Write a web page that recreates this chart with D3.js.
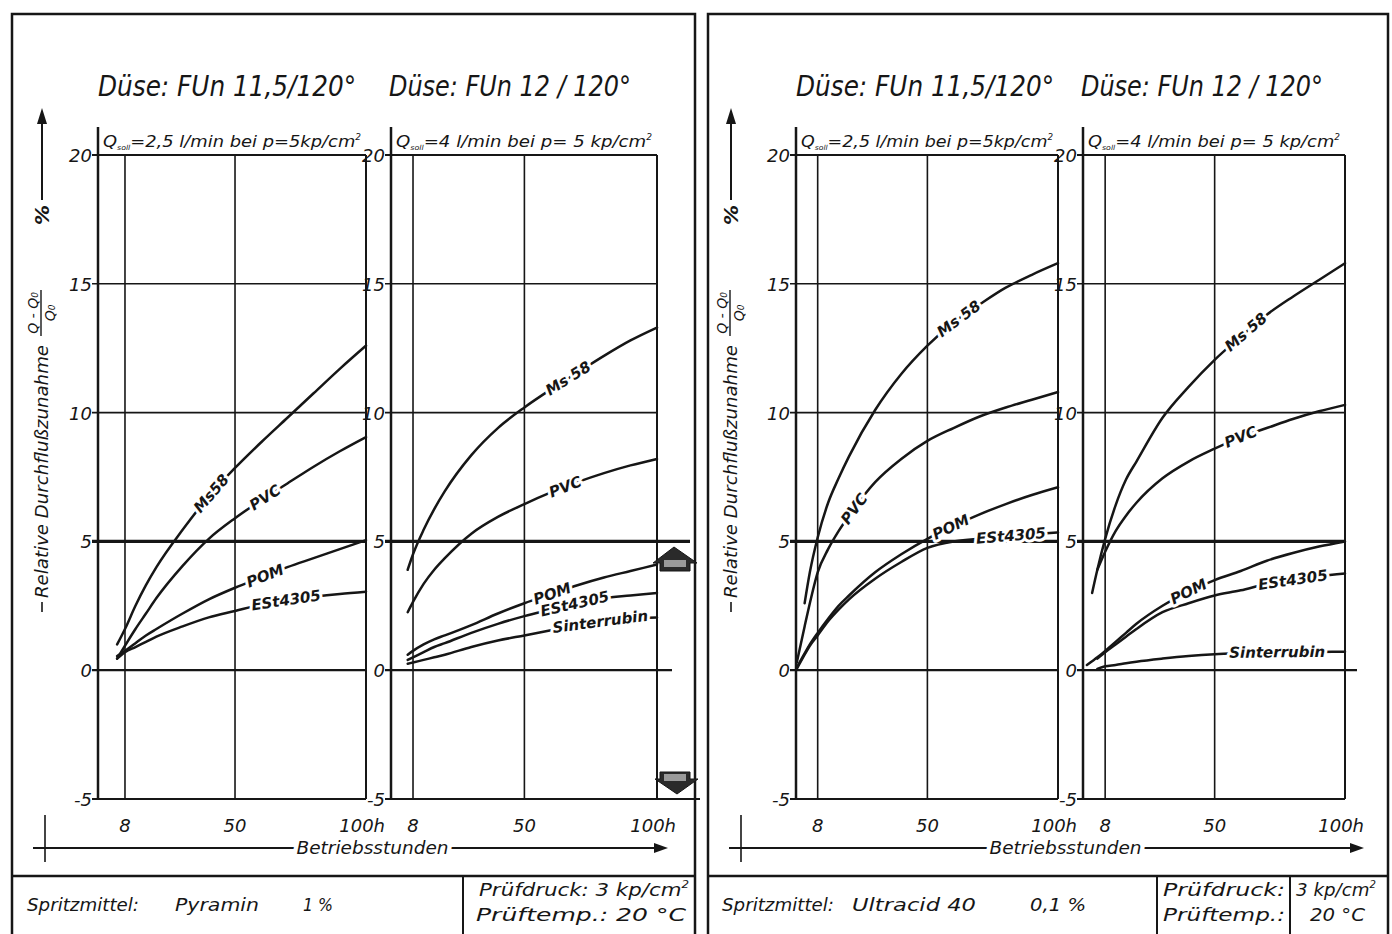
<!DOCTYPE html>
<html>
<head>
<meta charset="utf-8">
<script src="https://cdn.jsdelivr.net/npm/d3@7"></script>
<style>
  body { margin: 0; background: #fff; }
  svg { display: block; }
  text { font-family: "DejaVu Sans", sans-serif; font-style: italic; fill: #161616; }
</style>
</head>
<body>
<div id="chart"></div>
<script>
// ---- data (hours -> relative flow increase in %) ----
var yTicks = [-5, 0, 5, 10, 15, 20];
var xTicks = [8, 50, 100];
var xTickLabels = ["8", "50", "100h"];

// Pyramin 1 %, Düse FUn 11,5/120°
var hoursA1 = [5, 8, 12, 16, 20, 30, 40, 50, 60, 70, 80, 90, 100];
var ms58A1  = [1.0, 1.6, 2.5, 3.3, 4.0, 5.45, 6.75, 7.85, 8.85, 9.8, 10.75, 11.7, 12.6];
var pvcA1   = [0.45, 0.95, 1.6, 2.2, 2.8, 4.05, 5.1, 5.9, 6.6, 7.25, 7.9, 8.5, 9.05];
var pomA1   = [0.55, 0.75, 1.05, 1.35, 1.6, 2.2, 2.75, 3.2, 3.6, 4.0, 4.35, 4.7, 5.05];
var estA1   = [0.45, 0.7, 0.9, 1.1, 1.3, 1.7, 2.05, 2.3, 2.55, 2.72, 2.85, 2.96, 3.05];

// Pyramin 1 %, Düse FUn 12/120°
var hoursA2  = [6, 8, 12, 16, 20, 30, 40, 50, 60, 70, 80, 90, 100];
var ms58A2   = [3.9, 4.5, 5.45, 6.25, 6.95, 8.35, 9.4, 10.2, 10.9, 11.55, 12.2, 12.8, 13.3];
var pvcA2    = [2.25, 2.65, 3.35, 3.9, 4.35, 5.3, 5.95, 6.45, 6.9, 7.3, 7.65, 7.95, 8.2];
var pomA2    = [0.6, 0.75, 1.0, 1.2, 1.35, 1.75, 2.2, 2.6, 2.95, 3.3, 3.6, 3.85, 4.1];
var estA2    = [0.4, 0.5, 0.7, 0.9, 1.05, 1.45, 1.8, 2.1, 2.35, 2.6, 2.8, 2.9, 3.0];
var sinterA2 = [0.25, 0.3, 0.4, 0.5, 0.6, 0.9, 1.15, 1.35, 1.55, 1.75, 1.9, 2.0, 2.05];

// Ultracid 40 0,1 %, Düse FUn 11,5/120°
var hoursB1 = [0, 3, 5, 8, 12, 16, 20, 30, 40, 50, 60, 70, 80, 90, 100];
var ms58B1  = [null, 2.6, 3.8, 5.15, 6.5, 7.45, 8.3, 10.1, 11.5, 12.6, 13.5, 14.2, 14.85, 15.35, 15.8];
var pvcB1   = [0.3, 1.7, 2.6, 3.8, 4.7, 5.4, 6.0, 7.3, 8.2, 8.9, 9.4, 9.85, 10.2, 10.5, 10.8];
var pomB1   = [0.1, 0.65, 1.0, 1.45, 2.0, 2.5, 2.9, 3.8, 4.5, 5.1, 5.6, 6.05, 6.45, 6.8, 7.1];
var estB1   = [0.05, 0.6, 0.95, 1.35, 1.9, 2.35, 2.75, 3.55, 4.2, 4.75, 5.0, 5.1, 5.2, 5.28, 5.35];

// Ultracid 40 0,1 %, Düse FUn 12/120°
var hoursB2  = [1, 3, 5, 8, 12, 16, 20, 30, 40, 50, 60, 70, 80, 90, 100];
var ms58B2   = [null, 3.0, 3.9, 5.1, 6.4, 7.4, 8.1, 9.8, 11.0, 12.05, 12.95, 13.8, 14.5, 15.15, 15.8];
var pvcB2    = [null, null, 3.9, 4.6, 5.4, 6.0, 6.5, 7.45, 8.1, 8.6, 9.05, 9.4, 9.75, 10.05, 10.3];
var pomB2    = [0.2, 0.35, 0.5, 0.75, 1.1, 1.45, 1.8, 2.5, 3.05, 3.5, 3.85, 4.25, 4.55, 4.8, 5.0];
var estB2    = [null, null, 0.45, 0.7, 1.0, 1.3, 1.6, 2.25, 2.6, 2.9, 3.1, 3.35, 3.5, 3.65, 3.75];
var sinterB2 = [null, null, 0.05, 0.15, 0.2, 0.27, 0.33, 0.45, 0.55, 0.62, 0.66, 0.69, 0.7, 0.71, 0.72];

var nozzleTitles = ["Düse: FUn 11,5/120°", "Düse: FUn 12 / 120°"];
var flowNotes = [["=2,5 l/min bei p=5kp/cm", "=4 l/min bei p= 5 kp/cm"], ["=2,5 l/min bei p=5kp/cm", "=4 l/min bei p= 5 kp/cm"]];
var agents = [["Spritzmittel:", "Pyramin", "1 %"], ["Spritzmittel:", "Ultracid 40", "0,1 %"]];

// ---- drawing ----
var W = 1392, H = 934, ink = "#161616";
var svg = d3.select("#chart").append("svg").attr("width", W).attr("height", H);
svg.append("rect").attr("width", W).attr("height", H).attr("fill", "#fff");

var y = d3.scaleLinear().domain([-5, 20]).range([799, 155]);

var plots = [
  { left: 98, right: 366, hMin: -2.3, hours: hoursA1, ext: { "0": 0, "5": 0, "-5": 0 },
    series: [
      { name: "Ms58", values: ms58A1, at: 41 },
      { name: "PVC", values: pvcA1, at: 61.5 },
      { name: "POM", values: pomA1, at: 61.5 },
      { name: "ESt4305", values: estA1, at: 69.5 }
    ] },
  { left: 391, right: 657, hMin: -0.3, hours: hoursA2, ext: { "0": 15, "5": 33, "-5": 43 },
    series: [
      { name: "Ms 58", values: ms58A2, at: 66.5 },
      { name: "PVC", values: pvcA2, at: 65.4 },
      { name: "POM", values: pomA2, at: 60.5 },
      { name: "ESt4305", values: estA2, at: 69 },
      { name: "Sinterrubin", values: sinterA2, at: 78.6 }
    ] },
  { left: 796, right: 1058, hMin: -0.3, hours: hoursB1, ext: { "0": 0, "5": 0, "-5": 0 },
    series: [
      { name: "Ms 58", values: ms58B1, at: 62 },
      { name: "PVC", values: pvcB1, at: 22 },
      { name: "POM", values: pomB1, at: 59 },
      { name: "ESt4305", values: estB1, at: 82 }
    ] },
  { left: 1083, right: 1345, hMin: -0.5, hours: hoursB2, ext: { "0": 12, "5": 0, "-5": 0 },
    series: [
      { name: "Ms 58", values: ms58B2, at: 62 },
      { name: "PVC", values: pvcB2, at: 60 },
      { name: "POM", values: pomB2, at: 40 },
      { name: "ESt4305", values: estB2, at: 80 },
      { name: "Sinterrubin", values: sinterB2, at: 74 }
    ] }
];

function valueAt(hours, values, h) {
  for (var i = 0; i < hours.length - 1; i++) {
    if (h >= hours[i] && h <= hours[i + 1] && values[i] != null && values[i + 1] != null) {
      var t = (h - hours[i]) / (hours[i + 1] - hours[i]);
      return values[i] + t * (values[i + 1] - values[i]);
    }
  }
  return null;
}

function drawPlot(p) {
  var x = d3.scaleLinear().domain([p.hMin, 100]).range([p.left, p.right]);
  var g = svg.append("g");

  // horizontal grid
  yTicks.forEach(function (v) {
    var w = v === 5 ? 3.4 : (v === 0 ? 2.2 : (v === 20 || v === -5 ? 2 : 1.6));
    var ext = p.ext[String(v)] || 0;
    g.append("line")
      .attr("x1", x(p.hMin) - 6).attr("x2", x(100) + ext)
      .attr("y1", y(v)).attr("y2", y(v))
      .attr("stroke", ink).attr("stroke-width", w);
    g.append("text")
      .attr("x", x(p.hMin) - 6).attr("y", y(v) + 7)
      .attr("text-anchor", "end").attr("font-size", 18)
      .text(v);
  });

  // vertical grid
  xTicks.forEach(function (h, i) {
    g.append("line")
      .attr("x1", x(h)).attr("x2", x(h))
      .attr("y1", y(20)).attr("y2", y(-5))
      .attr("stroke", ink).attr("stroke-width", h === 100 ? 2 : 1.6);
    var lbl = g.append("text")
      .attr("y", 832).attr("font-size", 18)
      .text(xTickLabels[i]);
    if (h === 100) lbl.attr("x", x(h) + 19).attr("text-anchor", "end");
    else lbl.attr("x", x(h)).attr("text-anchor", "middle");
  });

  // y axis (runs above the top line)
  g.append("line")
    .attr("x1", x(p.hMin)).attr("x2", x(p.hMin))
    .attr("y1", 127).attr("y2", y(-5))
    .attr("stroke", ink).attr("stroke-width", 2.5);

  var line = d3.line()
    .defined(function (d) { return d[1] != null; })
    .x(function (d) { return x(d[0]); })
    .y(function (d) { return y(d[1]); })
    .curve(d3.curveMonotoneX);

  p.series.forEach(function (s) {
    var pts = p.hours.map(function (h, i) { return [h, s.values[i]]; });
    g.append("path").datum(pts)
      .attr("d", line)
      .attr("fill", "none").attr("stroke", ink)
      .attr("stroke-width", 2.5).attr("stroke-linecap", "round");
  });

  // curve labels sit in gaps of their curves
  p.series.forEach(function (s) {
    var v = valueAt(p.hours, s.values, s.at);
    var va = valueAt(p.hours, s.values, s.at - 4);
    var vb = valueAt(p.hours, s.values, s.at + 4);
    var ang = Math.atan2(y(vb) - y(va), x(s.at + 4) - x(s.at - 4)) * 180 / Math.PI;
    g.append("text")
      .attr("transform", "translate(" + x(s.at) + "," + y(v) + ") rotate(" + ang + ")")
      .attr("text-anchor", "middle").attr("dy", 5)
      .attr("font-size", 15).attr("font-weight", "bold")
      .attr("stroke", "#fff").attr("stroke-width", 6)
      .attr("paint-order", "stroke").attr("stroke-linejoin", "round")
      .text(s.name);
  });
  return x;
}

plots.forEach(drawPlot);

// ---- panel frames, titles, axis captions, footers ----
var panels = [
  { x0: 12, x1: 695, plotA: plots[0], plotB: plots[1], yLab: 48, divs: [463] },
  { x0: 708, x1: 1388, plotA: plots[2], plotB: plots[3], yLab: 737, divs: [1157, 1290] }
];

panels.forEach(function (pn, k) {
  var g = svg.append("g");
  g.append("rect")
    .attr("x", pn.x0).attr("y", 14).attr("width", pn.x1 - pn.x0).attr("height", H)
    .attr("fill", "none").attr("stroke", ink).attr("stroke-width", 2.5);
  g.append("line")
    .attr("x1", pn.x0).attr("x2", pn.x1).attr("y1", 876).attr("y2", 876)
    .attr("stroke", ink).attr("stroke-width", 2.5);
  pn.divs.forEach(function (dx) {
    g.append("line").attr("x1", dx).attr("x2", dx).attr("y1", 876).attr("y2", H)
      .attr("stroke", ink).attr("stroke-width", 2);
  });

  // nozzle titles
  [pn.plotA, pn.plotB].forEach(function (p, i) {
    var tx = i === 0 ? p.left : p.left - 2;
    g.append("text")
      .attr("x", tx).attr("y", 96).attr("font-size", 28)
      .attr("textLength", i === 0 ? 258 : 242).attr("lengthAdjust", "spacingAndGlyphs")
      .text(nozzleTitles[i]);
    var q = g.append("text")
      .attr("x", p.left + 5).attr("y", 147).attr("font-size", 16)
      .attr("textLength", p.right - p.left - 10).attr("lengthAdjust", "spacingAndGlyphs");
    q.append("tspan").text("Q");
    q.append("tspan").attr("font-size", 7).attr("dy", 3).text("soll");
    q.append("tspan").attr("dy", -3).text(flowNotes[k][i]);
    q.append("tspan").attr("font-size", 8).attr("dy", -7).text("2");
  });

  // y caption, rotated, with arrow
  var cx = pn.yLab;
  var r = g.append("g").attr("transform", "translate(" + cx + ",0) rotate(-90)");
  r.append("line").attr("x1", -612).attr("x2", -602).attr("y1", -6).attr("y2", -6)
    .attr("stroke", ink).attr("stroke-width", 1.6);
  r.append("text").attr("x", -598).attr("y", 0).attr("font-size", 17)
    .attr("textLength", 253).attr("lengthAdjust", "spacingAndGlyphs")
    .text("Relative Durchflußzunahme");
  r.append("text").attr("x", -313).attr("y", -10).attr("font-size", 14)
    .attr("text-anchor", "middle").text("Q - Q₀");
  r.append("line").attr("x1", -336).attr("x2", -290).attr("y1", -7).attr("y2", -7)
    .attr("stroke", ink).attr("stroke-width", 1.4);
  r.append("text").attr("x", -313).attr("y", 7).attr("font-size", 14)
    .attr("text-anchor", "middle").text("Q₀");
  r.append("text").attr("x", -215).attr("y", 1).attr("font-size", 20)
    .attr("text-anchor", "middle").attr("font-weight", "bold").text("%");
  r.append("line").attr("x1", -200).attr("x2", -120).attr("y1", -6).attr("y2", -6)
    .attr("stroke", ink).attr("stroke-width", 2);
  r.append("path").attr("d", "M-108,-6 L-124,-11 L-124,-1 Z").attr("fill", ink);

  // x caption with arrow
  var lx0 = pn.x0 + 21, lx1 = pn.x0 + 656;
  var mid = (pn.plotA.left + pn.plotB.right) / 2 - 5;
  g.append("line").attr("x1", lx0).attr("x2", lx1 - 10).attr("y1", 848).attr("y2", 848)
    .attr("stroke", ink).attr("stroke-width", 1.8);
  g.append("path").attr("d", "M" + lx1 + ",848 L" + (lx1 - 14) + ",843 L" + (lx1 - 14) + ",853 Z").attr("fill", ink);
  g.append("line").attr("x1", pn.x0 + 33).attr("x2", pn.x0 + 33).attr("y1", 815).attr("y2", 862)
    .attr("stroke", ink).attr("stroke-width", 1.6);
  g.append("text").attr("x", mid).attr("y", 854).attr("font-size", 17)
    .attr("text-anchor", "middle").attr("textLength", 152).attr("lengthAdjust", "spacingAndGlyphs")
    .attr("stroke", "#fff").attr("stroke-width", 8).attr("paint-order", "stroke")
    .text("Betriebsstunden");
});

// footer texts
var foot = svg.append("g");
function ft(x, yy, s, anchor, len) {
  var t = foot.append("text").attr("x", x).attr("y", yy).attr("font-size", 18)
    .attr("text-anchor", anchor || "start").text(s);
  if (len) t.attr("textLength", len).attr("lengthAdjust", "spacingAndGlyphs");
  return t;
}
ft(27, 911, agents[0][0], "start", 112);
ft(175, 911, agents[0][1], "start", 84);
ft(303, 911, agents[0][2], "start", 30);
ft(722, 911, agents[1][0], "start", 112);
ft(852, 911, agents[1][1], "start", 124);
ft(1030, 911, agents[1][2], "start", 56);

var pd1 = ft(479, 896, "Prüfdruck: 3 kp/cm", "start", 210);
pd1.append("tspan").attr("font-size", 10).attr("dy", -8).text("2");
ft(476, 921, "Prüftemp.:  20 °C", "start", 210);
ft(1285, 896, "Prüfdruck:", "end", 122);
ft(1285, 921, "Prüftemp.:", "end", 122);
var pd2 = ft(1296, 896, "3 kp/cm", "start", 80);
pd2.append("tspan").attr("font-size", 10).attr("dy", -8).text("2");
ft(1310, 921, "20 °C", "start", 55);

// off-scale stamps at the right edge of the second plot
var stamps = [
  [[653, 563], [674, 547], [697, 563], [690, 563], [690, 571], [660, 571], [660, 563]],
  [[660, 772], [690, 772], [690, 779], [698, 779], [677, 794], [655, 779], [660, 779]]
];
stamps.forEach(function (pts, i) {
  svg.append("polygon").attr("points", pts.map(function (d) { return d.join(","); }).join(" "))
    .attr("fill", "#2a2a2a").attr("stroke", ink).attr("stroke-width", 1);
  var yy = i === 0 ? 560 : 774;
  svg.append("rect").attr("x", 664).attr("y", yy).attr("width", 22).attr("height", 7)
    .attr("fill", "#9a9a9a");
});
</script>
</body>
</html>
